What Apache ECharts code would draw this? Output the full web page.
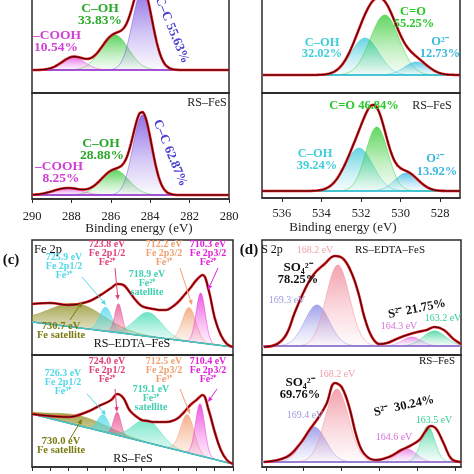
<!DOCTYPE html>
<html><head><meta charset="utf-8">
<script src="https://cdn.jsdelivr.net/npm/echarts@6/dist/echarts.min.js"></script>
<style>html,body{margin:0;padding:0;background:#fff}#c{width:474px;height:474px}</style>
</head><body><div id="c"></div>
<script>
// ================= DATA =================
// (a) C 1s  — peak centre (eV), height (a.u.), sigma (eV)
const aTicks = [290, 288, 286, 284, 282, 280];
const aTopCenter = [287.9, 285.8, 284.4];
const aTopHeight = [13, 35, 80];
const aTopSigma  = [0.58, 0.7, 0.5];
const aTopBase   = 23;
const aBotCenter = [288.2, 285.8, 284.4];
const aBotHeight = [7, 25, 80];
const aBotSigma  = [0.7, 0.7, 0.48];
const aBotBase   = 4;
// (b) O 1s  (C–OH, C=O, O2-)
const bTicks = [536, 534, 532, 530, 528];
const bTopCenter = [531.8, 530.8, 529.2];
const bTopHeight = [37, 60, 13];
const bTopSigma  = [0.7, 0.73, 0.6];
const bTopBase   = 18;
const bBotCenter = [532.1, 531.2, 529.7];
const bBotHeight = [43, 64, 18];
const bBotSigma  = [0.7, 0.56, 0.59];
const bBotBase   = 7;
// (c) Fe 2p (sat, Fe3+ 2p1/2, Fe2+ 2p1/2, Fe2+ sat, Fe3+ 2p3/2, Fe2+ 2p3/2)
const cTicks = [738, 735, 732, 729, 726, 723, 720, 717, 714, 711, 708, 705];
const cTopCenter = [730.7, 725.9, 723.8, 718.9, 712.2, 710.3];
const cTopHeight = [24, 24, 29, 24, 34, 50];
const cTopSigma  = [4.5, 1.0, 0.6, 2.2, 1.1, 0.75];
const cTopBg     = [[738, 33], [705, 8]];
const cEnvE      = [738, 735, 732, 729, 727, 725, 724, 723, 722, 721, 720, 719, 718, 717, 716, 715, 714, 713, 712, 711, 710, 709, 708, 707, 706, 705];
const cTopEnv    = [51, 52, 50, 53, 59, 67, 71, 70, 63, 55, 49, 47, 46, 45, 45, 48, 53, 60, 67, 75, 80, 65, 37, 20, 11, 8];
const cBotCenter = [730.0, 726.3, 724.0, 719.1, 712.5, 710.4];
const cBotHeight = [10, 17, 23, 23, 38, 52];
const cBotSigma  = [4.5, 0.9, 0.6, 2.2, 1.1, 0.75];
const cBotBg     = [[738, 53], [705, 3]];
const cBotEnv    = [53, 51, 50, 55, 61, 67, 73, 69, 57, 51, 47, 46, 45, 45, 45, 46, 49, 55, 62, 67, 72, 57, 35, 17, 7, 3];
// (d) S 2p (SO4 169.x, SO4 168.2, S2- 164.x, S2- 163.x)
const dTicks = [172, 170, 168, 166, 164, 162];
const dTopCenter = [169.3, 168.2, 164.3, 163.1];
const dTopHeight = [41, 81, 9, 15];
const dTopSigma  = [0.65, 0.62, 0.5, 0.6];
const dTopBase   = 9;
const dTopEnvE   = [172.1, 171.4, 170.9, 170.5, 170.0, 169.5, 168.9, 168.35, 167.9, 167.45, 167.1, 166.8, 166.4, 166.0, 165.6, 165.1, 164.55, 164.0, 163.5, 163.1, 162.6, 162.1, 161.7];
const dTopEnv    = [8, 11, 21, 41, 63, 80, 91, 99, 96, 81, 61, 38, 18, 11, 12, 16, 20, 23, 25, 28, 25, 16, 11];
const dBotCenter = [169.45, 168.25, 164.55, 163.45];
const dBotHeight = [35, 73, 13, 36];
const dBotSigma  = [0.62, 0.62, 0.5, 0.36];
const dBotBase   = 5;
const dBotEnvE   = [172.1, 170.9, 170.2, 169.7, 169.2, 168.8, 168.35, 168.0, 167.6, 167.2, 166.8, 166.2, 165.5, 164.85, 164.4, 163.9, 163.6, 163.3, 163.0, 162.6, 162.2, 161.7];
const dBotEnv    = [5, 10, 23, 37, 50, 63, 84, 80, 60, 30, 13, 7, 10, 17, 21, 27, 35, 41, 38, 23, 8, 5];

// ================= COLOURS =================
const aCols = ['#e040e0', '#2fc72f', '#7048e0'];
const bCols = ['#3cc8d8', '#33cc33', '#30b8e0'];
const cCols = ['#8c8c1e', '#48d8e8', '#e8468c', '#40dcb4', '#f09a6a', '#e828d8'];
const dCols = ['#8888e8', '#f08898', '#e070e0', '#30d090'];
const SERIF = "'Liberation Serif','Times New Roman',serif";

function rgba(hex, a) {
  const n = parseInt(hex.slice(1), 16);
  return `rgba(${(n >> 16) & 255},${(n >> 8) & 255},${n & 255},${a})`;
}
function gauss(x, c, h, s) { return h * Math.exp(-(x - c) * (x - c) / (2 * s * s)); }
function sampleGrid(lo, hi, step) { const a = []; for (let x = lo; x <= hi + 1e-9; x += step) a.push(+x.toFixed(3)); return a; }
function linBg(pts) {
  const [[e0, v0], [e1, v1]] = pts;
  return x => v0 + (x - e0) * (v1 - v0) / (e1 - e0);
}

const grids = [
  {left: 32, width: 197, top: -12, height: 105},   // a top
  {left: 32, width: 197, top: 93, height: 106},    // a bottom
  {left: 262, width: 198, top: -12, height: 105},  // b top
  {left: 262, width: 198, top: 93, height: 105},   // b bottom
  {left: 32, width: 201, top: 240, height: 115},   // c top
  {left: 32, width: 201, top: 355, height: 112},   // c bottom
  {left: 262, width: 199, top: 240, height: 115},  // d top
  {left: 262, width: 199, top: 355, height: 112}   // d bottom
];
const xr = [[280, 290], [280, 290], [527, 537], [527, 537], [705, 738], [705, 738], [161.7, 172.2], [161.7, 172.2]];

const series = [];
function addPanel(gi, centers, heights, sigmas, cols, bgFn, baseColor, envE, envI) {
  const [lo, hi] = xr[gi];
  const xs = sampleGrid(lo, hi, (hi - lo) / 400);
  series.push({
    type: 'custom', coordinateSystem: 'cartesian2d', xAxisIndex: gi, yAxisIndex: gi, silent: true, z: 3, clip: true,
    animation: false,
    data: centers.map((c, k) => [c, heights[k], sigmas[k]]),
    renderItem: (params, api) => {
      const k = params.dataIndex;
      const c = api.value(0), h = api.value(1), s = api.value(2);
      const top = xs.map(x => api.coord([x, bgFn(x) + gauss(x, c, h, s)]));
      const bot = xs.map(x => api.coord([x, bgFn(x)])).reverse();
      return {
        type: 'polygon', shape: {points: top.concat(bot)},
        style: {
          fill: new echarts.graphic.LinearGradient(0, 0, 0, 1, [
            {offset: 0, color: rgba(cols[k], 0.78)}, {offset: 0.55, color: rgba(cols[k], 0.3)}, {offset: 1, color: rgba(cols[k], 0.02)}]),
          stroke: rgba(cols[k], 0.6), lineWidth: 0.8
        }
      };
    }
  });
  series.push({type: 'line', xAxisIndex: gi, yAxisIndex: gi, symbol: 'none', silent: true,
    data: xs.map(x => [x, bgFn(x)]), lineStyle: {color: baseColor, width: 1.4}, z: 4, animation: false});
  let env;
  if (envE) env = envE.map((e, i) => [e, envI[i]]);
  else env = xs.map(x => [x, bgFn(x) + centers.reduce((s, c, k) => s + gauss(x, c, heights[k], sigmas[k]), 0)]);
  series.push({type: 'line', xAxisIndex: gi, yAxisIndex: gi, symbol: 'none', silent: true, smooth: envE ? 0.4 : false,
    data: env, lineStyle: {color: '#e3141c', width: 2.6}, z: 5, animation: false});
  series.push({type: 'line', xAxisIndex: gi, yAxisIndex: gi, symbol: 'none', silent: true, smooth: envE ? 0.4 : false,
    data: env, lineStyle: {color: '#2a0808', width: 1}, z: 6, animation: false});
}
addPanel(0, aTopCenter, aTopHeight, aTopSigma, aCols, () => aTopBase, '#a23cd8');
addPanel(1, aBotCenter, aBotHeight, aBotSigma, aCols, () => aBotBase, '#a23cd8');
addPanel(2, bTopCenter, bTopHeight, bTopSigma, bCols, () => bTopBase, '#38c0d8');
addPanel(3, bBotCenter, bBotHeight, bBotSigma, bCols, () => bBotBase, '#38c0d8');
addPanel(4, cTopCenter, cTopHeight, cTopSigma, cCols, linBg(cTopBg), '#3cc8c0', cEnvE, cTopEnv);
addPanel(5, cBotCenter, cBotHeight, cBotSigma, cCols, linBg(cBotBg), '#3cc8c0', cEnvE, cBotEnv);
addPanel(6, dTopCenter, dTopHeight, dTopSigma, dCols, () => dTopBase, '#9a70d8', dTopEnvE, dTopEnv);
addPanel(7, dBotCenter, dBotHeight, dBotSigma, dCols, () => dBotBase, '#9a70d8', dBotEnvE, dBotEnv);

const tickVals = [aTicks, aTicks, bTicks, bTicks, cTicks, cTicks, dTicks, dTicks];
const showLab = [false, true, false, true, false, false, false, true];
const showTick = [false, true, false, true, false, true, false, true];
const labMargin = [10, 11, 10, 9, 10, 10, 10, 5];
const xAxis = grids.map((g, i) => ({
  type: 'value', gridIndex: i, inverse: true, min: xr[i][0], max: xr[i][1],
  axisLine: {show: true, lineStyle: {color: '#2b2b2b', width: 1.5}},
  axisTick: {show: showTick[i], inside: false, length: 4, customValues: tickVals[i], lineStyle: {color: '#2b2b2b'}},
  axisLabel: {show: showLab[i], customValues: tickVals[i], margin: labMargin[i], fontFamily: SERIF, fontSize: 12.5, color: '#222'},
  splitLine: {show: false}
}));
const yAxis = grids.map((g, i) => ({type: 'value', gridIndex: i, min: 0, max: g.height, show: false}));

// ================= ANNOTATIONS =================
const G = [];
function T(x, y, text, color, size, bold, extra) {
  G.push(Object.assign({type: 'text', x, y, z: 100, silent: true,
    style: {text, fill: color, font: `${bold ? 'bold ' : ''}${size}px ${SERIF}`,
      align: 'center', verticalAlign: 'middle', textAlign: 'center', textVerticalAlign: 'middle', lineHeight: size * 0.9}}, extra || {}));
}
function A(x1, y1, x2, y2, color) {
  const dx = x2 - x1, dy = y2 - y1, L = Math.hypot(dx, dy), ux = dx / L, uy = dy / L;
  const bx = x2 - ux * 5, by = y2 - uy * 5;
  G.push({type: 'line', z: 99, silent: true, shape: {x1, y1, x2: bx, y2: by}, style: {stroke: color, lineWidth: 1}});
  G.push({type: 'polygon', z: 99, silent: true, shape: {points: [[x2, y2], [bx - uy * 2.2, by + ux * 2.2], [bx + uy * 2.2, by - ux * 2.2]]}, style: {fill: color}});
}
// panel a
T(100, 9, 'C–OH', '#2aa82a', 13.5, true);
T(100, 21, '33.83%', '#2aa82a', 13.5, true);
T(57, 36, '–COOH', '#d23fd6', 13.5, true);
T(56, 48, '10.54%', '#d23fd6', 13.5, true);
T(172, 30, 'C–C 55.63%', '#4a3fd0', 13, true, {rotation: -1.18});
T(207, 103, 'RS–FeS', '#222', 12, false);
T(101, 144, 'C–OH', '#2aa82a', 13.5, true);
T(102, 156, '28.88%', '#2aa82a', 13.5, true);
T(59, 167, '–COOH', '#d23fd6', 13.5, true);
T(61, 179, '8.25%', '#d23fd6', 13.5, true);
T(170, 153, 'C–C 62.87%', '#4a3fd0', 13, true, {rotation: -1.18});
T(139, 229, 'Binding energy (eV)', '#222', 13, false);
// panel b
T(413, 12, 'C=O', '#28c828', 12.5, true);
T(414, 24, '55.25%', '#28c828', 12.5, true);
T(322, 43, 'C–OH', '#3ecfd8', 12.5, true);
T(322, 54, '32.02%', '#3ecfd8', 12.5, true);
T(440, 42, 'O²⁻', '#3ab8e0', 12.5, true);
T(440, 54, '12.73%', '#3ab8e0', 12.5, true);
T(364, 106, 'C=O 46.84%', '#28c828', 12.5, true);
T(432, 106, 'RS–FeS', '#222', 12, false);
T(315, 154, 'C–OH', '#3ecfd8', 12.5, true);
T(317, 166, '39.24%', '#3ecfd8', 12.5, true);
T(435, 159, 'O²⁻', '#3ab8e0', 12.5, true);
T(437, 172, '13.92%', '#3ab8e0', 12.5, true);
T(343, 228, 'Binding energy (eV)', '#222', 13, false);
// panel c
T(11, 260, '(c)', '#111', 15, true);
T(48, 250, 'Fe 2p', '#111', 12.5, false);
T(107, 253, '723.8 eV\nFe 2p1/2\nFe²⁺', '#e0407a', 10, true);
T(164, 253, '712.2 eV\nFe 2p3/2\nFe³⁺', '#f0a070', 10, true);
T(208, 253, '710.3 eV\nFe 2p3/2\nFe²⁺', '#e020d8', 10, true);
T(64, 266, '725.9 eV\nFe 2p1/2\nFe³⁺', '#50d8e8', 10, true);
T(147, 283, '718.9 eV\nFe²⁺\nsatellite', '#40d0b0', 10, true);
T(61, 331, '730.7 eV\nFe satellite', '#7a7a10', 10.5, true);
T(132, 344, 'RS–EDTA–FeS', '#111', 12, false);
A(82, 277, 106, 305, '#50d8e8');
A(115, 268, 118, 300, '#e0407a');
A(180, 268, 192, 305, '#f0a070');
A(218, 268, 208, 290, '#e020d8');
A(70, 320, 82, 302, '#7a7a10');
T(107, 370, '724.0 eV\nFe 2p1/2\nFe²⁺', '#e0407a', 10, true);
T(164, 370, '712.5 eV\nFe 2p3/2\nFe³⁺', '#f0a070', 10, true);
T(208, 370, '710.4 eV\nFe 2p3/2\nFe²⁺', '#e020d8', 10, true);
T(63, 382, '726.3 eV\nFe 2p1/2\nFe³⁺', '#50d8e8', 10, true);
T(151, 398, '719.1 eV\nFe²⁺\nsatellite', '#40d0b0', 10, true);
T(61, 446, '730.0 eV\nFe satellite', '#7a7a10', 10.5, true);
T(133, 459, 'RS–FeS', '#111', 12, false);
A(87, 394, 106, 415, '#50d8e8');
A(115, 389, 117, 412, '#e0407a');
A(180, 389, 190, 414, '#f0a070');
A(217, 389, 208, 402, '#e020d8');
A(70, 439, 82, 419, '#7a7a10');
// panel d
T(249, 250, '(d)', '#111', 15, true);
T(272, 250, 'S 2p', '#111', 12, false);
T(315, 250, '168.2 eV', '#f0a0a8', 10, false);
T(390, 250, 'RS–EDTA–FeS', '#111', 11, false);
T(298, 268, 'SO₄²⁻', '#111', 13, true);
T(298, 280, '78.25%', '#111', 12.5, true);
T(287, 300, '169.3 eV', '#9a9ae0', 10, false);
T(417, 309, 'S²⁻ 21.75%', '#111', 12.5, true, {rotation: 0.2});
T(399, 326, '164.3 eV', '#d870d8', 10, false);
T(443, 318, '163.2 eV', '#30d090', 10, false);
T(437, 361, 'RS–FeS', '#111', 11, false);
T(337, 374, '168.2 eV', '#f0a0a8', 10, false);
T(300, 383, 'SO₄²⁻', '#111', 13, true);
T(300, 395, '69.76%', '#111', 12.5, true);
T(305, 415, '169.4 eV', '#9a9ae0', 10, false);
T(404, 406, 'S²⁻  30.24%', '#111', 12.5, true, {rotation: 0.22});
T(434, 420, '163.5 eV', '#30d090', 10, false);
T(394, 437, '164.6 eV', '#d870d8', 10, false);

const chart = echarts.init(document.getElementById('c'), null, {renderer: 'canvas'});
chart.setOption({
  animation: false,
  backgroundColor: '#fff',
  grid: grids.map(g => Object.assign({show: true, borderColor: '#2b2b2b', borderWidth: 1.5, containLabel: false, outerBoundsMode: 'none'}, g)),
  xAxis, yAxis, series, graphic: G
});
</script></body></html>
